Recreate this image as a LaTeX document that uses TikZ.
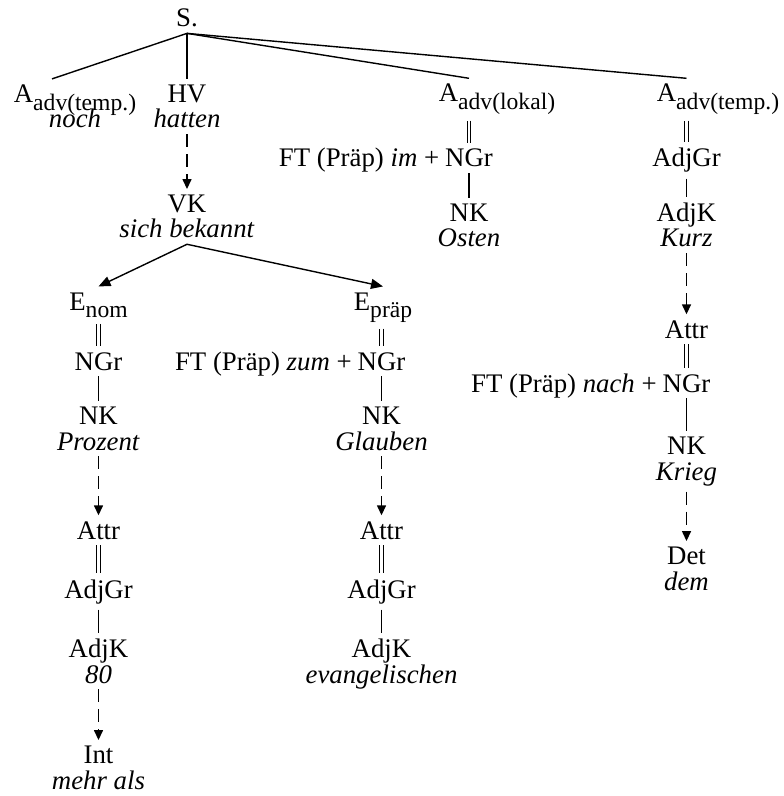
\documentclass[tikz,border=0pt]{standalone}
\usepackage{fontspec}
\setmainfont{Liberation Serif}
\usetikzlibrary{arrows.meta,positioning}

\newcommand\sbs[1]{\raisebox{-3.8pt}{\fontsize{11.8}{11.8}\selectfont #1}}
\lineskiplimit=-10pt

\tikzset{
  lbl/.style={anchor=base, align=center, inner sep=0pt, outer sep=3pt,
    font=\fontsize{13.4}{12.7}\selectfont},
  pre/.style={lbl, outer sep=0pt},
  link/.style={line width=0.7pt},
  eq/.style={double, double distance=1.05pt, line width=0.6pt},
  dep/.style={link, dash pattern=on 6.5pt off 3.5pt, -{Triangle[length=5pt,width=4.5pt]}},
  arr/.style={link, -{Triangle[length=6pt,width=5pt]}}
}

\begin{document}
\begin{tikzpicture}[x=0.5pt,y=-0.5pt]
\useasboundingbox (0,0) rectangle (783,796);
% two-line nodes sit on the baseline of their lower line
\node[lbl] (s)      at (187,27)    {S.};
\node[lbl] (at1)    at (75,128)    {A\sbs{adv(temp.)}\\\textit{noch}};
\node[lbl] (hv)     at (187,128)   {HV\\\textit{hatten}};
\node[lbl] (al)     at (497,102)   {A\sbs{adv(lokal)}};
\node[lbl] (at2)    at (718,102)   {A\sbs{adv(temp.)}};
\node[lbl] (vk)     at (187,238)   {VK\\\textit{sich bekannt}};
\node[lbl] (enom)   at (98.5,310)  {E\sbs{nom}};
\node[lbl] (ngr1)   at (98.5,370)  {NGr};
\node[lbl] (nk1)    at (98.5,450)  {NK\\\textit{Prozent}};
\node[lbl] (attr1)  at (98.5,539)  {Attr};
\node[lbl] (adjgr1) at (98.5,598)  {AdjGr};
\node[lbl] (adjk1)  at (98.5,683)  {AdjK\\\textit{80}};
\node[lbl] (int)    at (98.5,789)  {Int\\\textit{mehr als}};
\node[lbl] (epraep) at (383,310)   {E\sbs{präp}};
\node[lbl] (ngr2)   at (381.5,370) {NGr};
\node[pre, base left=0pt of ngr2] (ft2) {FT (Präp) \textit{zum} +};
\node[lbl] (nk2)    at (381.5,450) {NK\\\textit{Glauben}};
\node[lbl] (attr2)  at (381.5,539) {Attr};
\node[lbl] (adjgr2) at (381.5,598) {AdjGr};
\node[lbl] (adjk2)  at (381.5,683) {AdjK\\\textit{evangelischen}};
\node[lbl] (ngr3)   at (469,167)   {NGr};
\node[pre, base left=0pt of ngr3] (ft3) {FT (Präp) \textit{im} +};
\node[lbl] (nk3)    at (469,247)   {NK\\\textit{Osten}};
\node[lbl] (adjgr4) at (686.5,167) {AdjGr};
\node[lbl] (adjk4)  at (686.5,247) {AdjK\\\textit{Kurz}};
\node[lbl] (attr4)  at (686.5,338) {Attr};
\node[lbl] (ngr4)   at (686.5,392) {NGr};
\node[pre, base left=0pt of ngr4] (ft4) {FT (Präp) \textit{nach} +};
\node[lbl] (nk4)    at (686.5,480) {NK\\\textit{Krieg}};
\node[lbl] (det)    at (686.5,590) {Det\\\textit{dem}};

\draw[link] (s.south) -- ([xshift=-11.5pt]at1.north);
\draw[link] (s.south) -- (hv.north);
\draw[link] (s.south) -- (al.north -| ngr3.north);
\draw[link] (s.south) -- (at2.north -| adjgr4.north);
\draw[dep] (hv) -- (vk);
\draw[arr] (vk.south) -- (enom.north);
\draw[arr] (vk.south) -- (epraep.north);

\draw[eq] (enom) -- (ngr1);
\draw[link] (ngr1) -- (nk1);
\draw[dep] (nk1) -- (attr1);
\draw[eq] (attr1) -- (adjgr1);
\draw[link] (adjgr1) -- (adjk1);
\draw[dep] (adjk1) -- (int);

\draw[eq] (epraep.south -| ngr2.north) -- (ngr2.north);
\draw[link] (ngr2) -- (nk2);
\draw[dep] (nk2) -- (attr2);
\draw[eq] (attr2) -- (adjgr2);
\draw[link] (adjgr2) -- (adjk2);

\draw[eq] (al.south -| ngr3.north) -- (ngr3.north);
\draw[link] (ngr3) -- (nk3);

\draw[eq] (at2.south -| adjgr4.north) -- (adjgr4.north);
\draw[link] (adjgr4) -- (adjk4);
\draw[dep] (adjk4) -- (attr4);
\draw[eq] (attr4) -- (ngr4);
\draw[link] (ngr4) -- (nk4);
\draw[dep] (nk4) -- (det);
\end{tikzpicture}
\end{document}
